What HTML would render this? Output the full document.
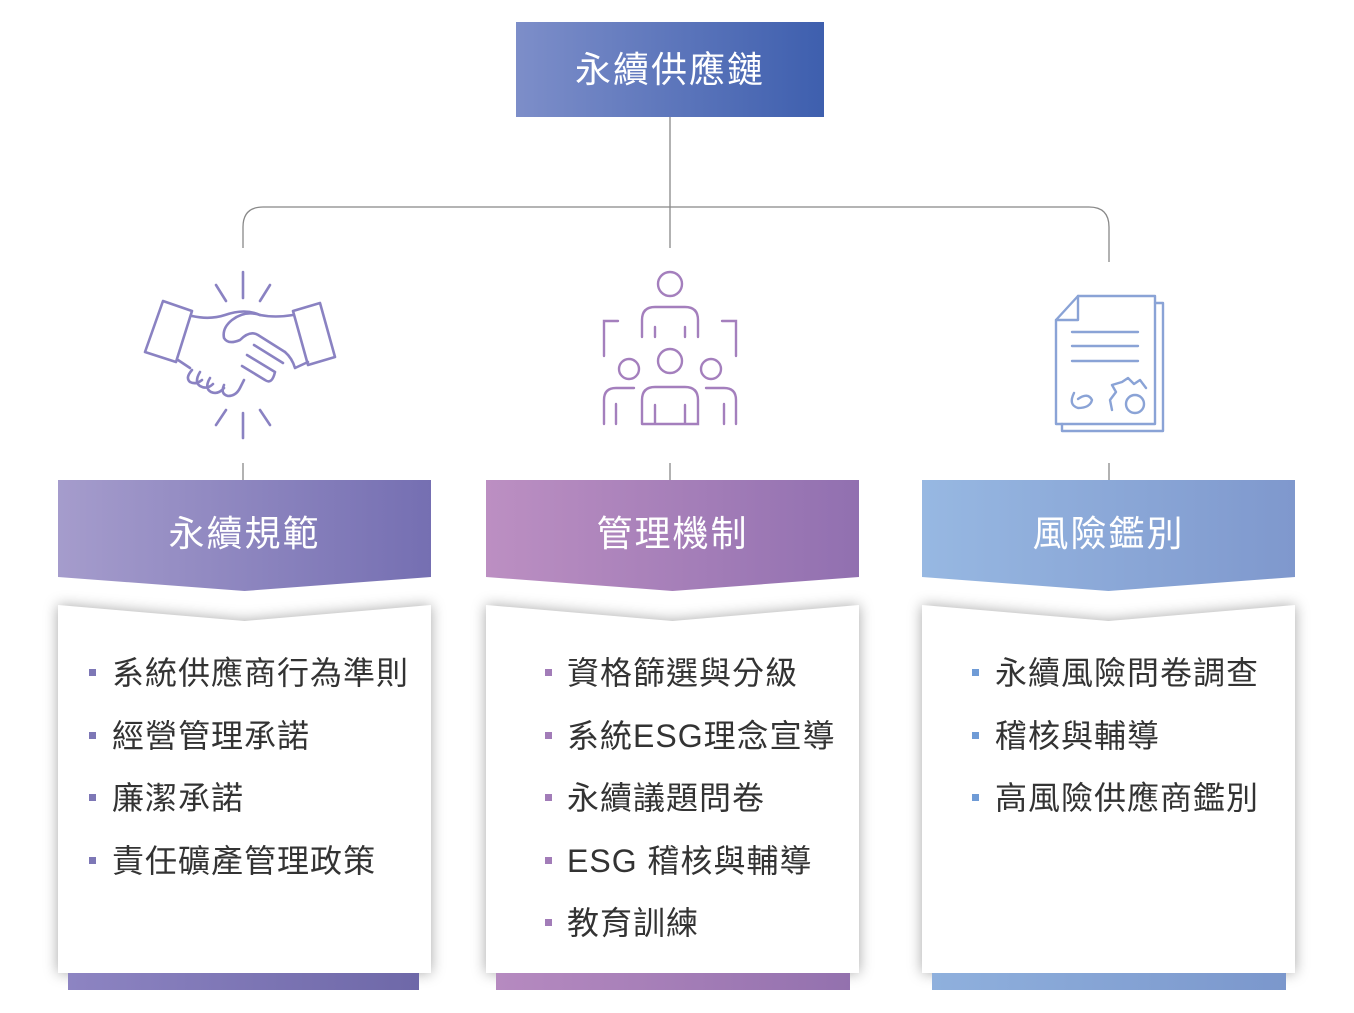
<!DOCTYPE html>
<html><head><meta charset="utf-8"><style>
body{margin:0;width:1354px;height:1013px;background:#fff;position:relative;overflow:hidden;font-family:"Liberation Sans","Noto Sans CJK TC",sans-serif;}
.abs{position:absolute}
.top{left:516px;top:22px;width:308px;height:95px;background:linear-gradient(90deg,#7d8ec9,#3e5fae);color:#fff;font-size:36px;text-align:center;line-height:95px;letter-spacing:2px}
.hdr{position:absolute;top:480px;width:373px;height:111px;clip-path:polygon(0 0,100% 0,100% 97px,50% 111px,0 97px);color:#fff;font-size:36px;text-align:center;line-height:108px;letter-spacing:2px}
.cardwrap{position:absolute;top:600px;width:373px;height:373px;filter:drop-shadow(0 0 7px rgba(0,0,0,.35))}
.card{width:100%;height:100%;background:#fff;clip-path:polygon(0 5px,50% 21px,100% 5px,100% 100%,0 100%)}
.bar{position:absolute;top:973px;height:17px}
.li{position:absolute;font-size:32px;letter-spacing:1px;color:#333;white-space:nowrap;line-height:36px}
.b{position:absolute;width:7px;height:7px}
</style></head><body>
<div class="abs top">永續供應鏈</div>
<svg class="abs" style="left:0;top:0" width="1354" height="1013">
<g fill="none" stroke="#888" stroke-width="1.3">
<path d="M670 117V248"/>
<path d="M243 248V227Q243 207 263 207H1089Q1109 207 1109 227V262"/>
<path d="M243 463V480M670 463V480M1109 463V480"/>
</g>
<g fill="none" stroke="#8a82c2" stroke-width="2.6" stroke-linecap="round" stroke-linejoin="round">
<path d="M243 272V298M216 285L226 301M270 285L260 301M243 413V438M216 425L226 410M270 425L260 410"/>
<path d="M163 301L192 311L176 362L145 352Z"/>
<path d="M293 311L320 303L335 357L308 365Z"/>
<path d="M192 316Q210 320 225 315Q245 308 260 315Q275 318 293 315"/>
<path d="M260 315Q245 310 232 320Q222 328 224 338Q228 345 240 340Q250 330 258 335L285 352"/>
<path d="M178 360L190 368M192 370Q185 378 190 382Q196 385 202 380M200 372Q194 382 200 386Q207 390 213 384M210 378Q204 388 211 392Q218 395 224 388M224 385Q220 394 228 396Q236 396 240 388L244 380"/>
<path d="M308 362L295 368M254 345L283 363M247 355L275 372M242 366L265 380Q272 385 275 372M285 352Q292 358 295 368"/>
</g>
<g fill="none" stroke="#a47fbd" stroke-width="2.4" stroke-linecap="round">
<circle cx="670" cy="284" r="12"/>
<path d="M642 337V320Q642 307 655 307H685Q698 307 698 320V337M655 327V337M685 327V337"/>
<path d="M604 356V321H618M736 356V321H722"/>
<circle cx="670" cy="361" r="12"/><circle cx="629" cy="369" r="10"/><circle cx="711" cy="369" r="10"/>
<path d="M642 424V400Q642 387 655 387H685Q698 387 698 400V424H642M655 405V424M685 405V424"/>
<path d="M604 424V400Q604 388 616 388H634M616 404V424M736 424V400Q736 388 724 388H706M724 404V424"/>
</g>
<g fill="none" stroke="#8aa3d6" stroke-width="2.4" stroke-linejoin="round" stroke-linecap="round">
<path d="M1062 424V431H1163V303H1155"/>
<path d="M1056 320L1078 296H1155V424H1056Z"/>
<path d="M1056 320H1078V296"/>
<path d="M1072 332H1138M1072 346H1138M1072 361H1138"/>
<path d="M1074 393Q1068 405 1078 408Q1090 408 1092 400Q1088 392 1078 399"/>
<path d="M1112 410L1110 400L1116 392L1112 385L1122 382L1128 378L1134 384L1140 380L1146 388"/>
<circle cx="1135" cy="404" r="9"/>
</g>
</svg>

<div class="hdr" style="left:58px;background:linear-gradient(90deg,#a59ccc,#756fb2)">永續規範</div>
<div class="hdr" style="left:486px;background:linear-gradient(90deg,#bc8fc2,#9170b0)">管理機制</div>
<div class="hdr" style="left:922px;background:linear-gradient(90deg,#97b8e2,#7f98cd)">風險鑑別</div>

<div class="cardwrap" style="left:58px"><div class="card"></div></div>
<div class="cardwrap" style="left:486px"><div class="card"></div></div>
<div class="cardwrap" style="left:922px"><div class="card"></div></div>

<div class="bar" style="left:68px;width:351px;background:linear-gradient(90deg,#8d84c2,#6e68a8)"></div>
<div class="bar" style="left:496px;width:354px;background:linear-gradient(90deg,#b68ac0,#9371ae)"></div>
<div class="bar" style="left:932px;width:354px;background:linear-gradient(90deg,#8fb0dd,#7b97cc)"></div>

<div class="b" style="left:89px;top:669px;background:#7d77b6"></div><div class="li" style="left:112px;top:655px">系統供應商行為準則</div>
<div class="b" style="left:89px;top:732px;background:#7d77b6"></div><div class="li" style="left:112px;top:718px">經營管理承諾</div>
<div class="b" style="left:89px;top:794px;background:#7d77b6"></div><div class="li" style="left:112px;top:780px">廉潔承諾</div>
<div class="b" style="left:89px;top:857px;background:#7d77b6"></div><div class="li" style="left:112px;top:843px">責任礦產管理政策</div>
<div class="b" style="left:545px;top:669px;background:#a27cb8"></div><div class="li" style="left:567px;top:655px">資格篩選與分級</div>
<div class="b" style="left:545px;top:732px;background:#a27cb8"></div><div class="li" style="left:567px;top:718px">系統ESG理念宣導</div>
<div class="b" style="left:545px;top:794px;background:#a27cb8"></div><div class="li" style="left:567px;top:780px">永續議題問卷</div>
<div class="b" style="left:545px;top:857px;background:#a27cb8"></div><div class="li" style="left:567px;top:843px">ESG 稽核與輔導</div>
<div class="b" style="left:545px;top:919px;background:#a27cb8"></div><div class="li" style="left:567px;top:905px">教育訓練</div>
<div class="b" style="left:972px;top:669px;background:#6f9bd6"></div><div class="li" style="left:995px;top:655px">永續風險問卷調查</div>
<div class="b" style="left:972px;top:732px;background:#6f9bd6"></div><div class="li" style="left:995px;top:718px">稽核與輔導</div>
<div class="b" style="left:972px;top:794px;background:#6f9bd6"></div><div class="li" style="left:995px;top:780px">高風險供應商鑑別</div>
</body></html>
